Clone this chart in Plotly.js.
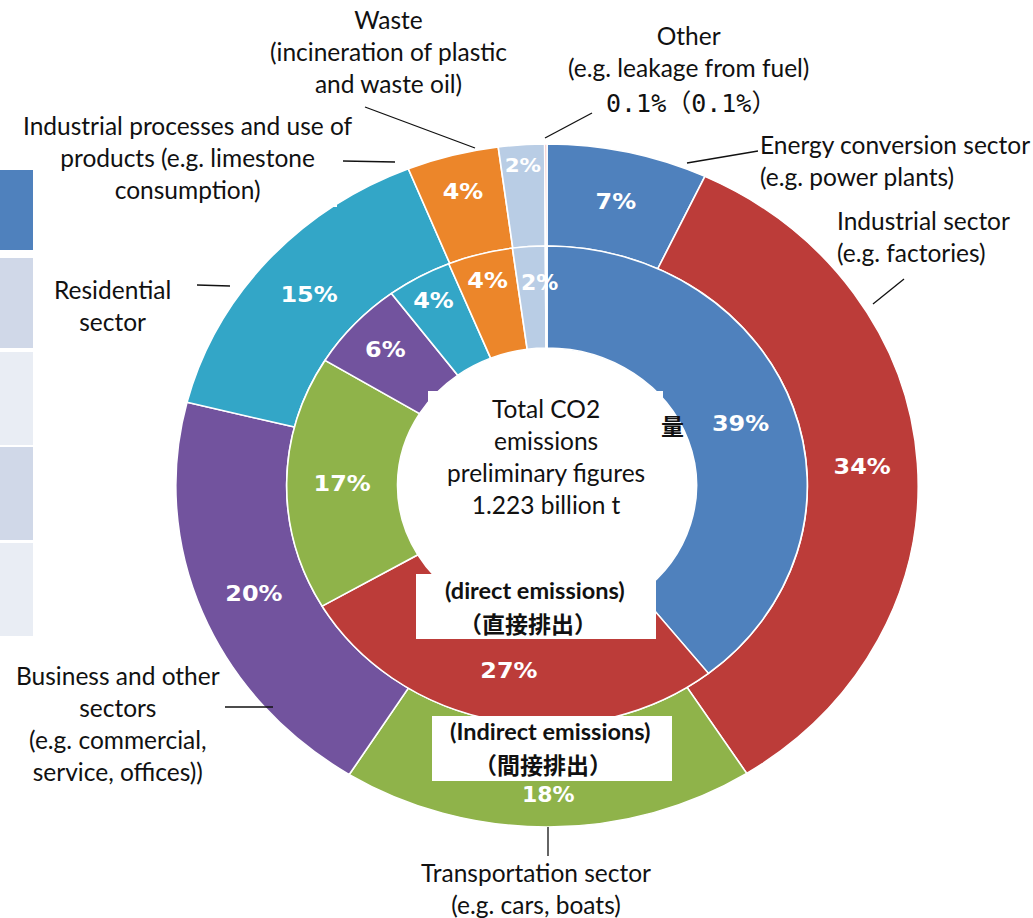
<!DOCTYPE html>
<html><head><meta charset="utf-8">
<script src="https://cdn.plot.ly/plotly-3.0.1.min.js"></script>
<style>html,body{margin:0;padding:0;background:#fff}#chart{width:1033px;height:918px}</style>
</head><body><div id="chart"></div>
<script>
// ---- data ----
const sectors = ['Energy conversion sector','Industrial sector','Transportation sector','Business and other sectors','Residential sector','Industrial processes and use of products','Waste','Other'];
const indirectShares = [7, 34, 18, 20, 15, 4, 2, 0.1];   // outer ring
const directShares   = [39, 27, 17, 6, 4, 4, 2, 0.1];    // inner ring
// slice labels drawn by the pie itself ('' = drawn as a separate note below, or not shown)
const outerTemplates = ['%{value}%','%{value}%','','%{value}%','%{value}%','%{value}%','%{value}%',''];
const innerTemplates = ['%{value}%','%{value}%','%{value}%','%{value}%','%{value}%','%{value}%','',''];
const sectorColors = ['#4F81BD','#BC3C39','#8FB34A','#72539E','#33A6C7','#EC862A','#B9CDE5','#EFA6A6'];

const labelWaste = 'Waste<br>(incineration of plastic<br>and waste oil)';
const labelOther = 'Other<br>(e.g. leakage from fuel)';
const labelOtherShare = '0.1%（0.1%）';
const labelProcesses = 'Industrial processes and use of<br>products (e.g. limestone<br>consumption)';
const labelEnergy = 'Energy conversion sector<br>(e.g. power plants)';
const labelIndustrial = 'Industrial sector<br>(e.g. factories)';
const labelResidential = 'Residential<br>sector';
const labelBusiness = 'Business and other<br>sectors<br>(e.g. commercial,<br>service, offices))';
const labelTransport = 'Transportation sector<br>(e.g. cars, boats)';
const centerTitle = 'Total CO2<br>emissions<br>preliminary figures<br>1.223 billion t';
const directTitleEn = '(direct emissions)';
const directTitleJa = '（直接排出）';
const indirectTitleEn = '(Indirect emissions)';
const indirectTitleJa = '（間接排出）';

// ---- layout helpers (pixel -> paper) ----
const W = 1033, H = 918;
const px = x => x / W, py = y => 1 - y / H;
const CX = 547, CY = 485.5, R_OUT = 341.5, R_MID = 239.5, R_HOLE = 137.5, STRETCH = 1.087;
const dom = r => ({x: [px(CX - r), px(CX + r)], y: [py(CY + r), py(CY - r)]});

const pctFont = {family: 'DejaVu Sans', size: 22, color: '#ffffff', weight: 'bold'};
const pieCommon = {
  type: 'pie', labels: sectors, sort: false, direction: 'clockwise', rotation: 0,
  textposition: 'inside', insidetextorientation: 'horizontal', hoverinfo: 'none',
  insidetextfont: pctFont,
  marker: {colors: sectorColors, line: {color: '#ffffff', width: 1.5}},
  showlegend: false
};
const outer = Object.assign({}, pieCommon, {values: indirectShares, texttemplate: outerTemplates,
  domain: dom(R_OUT), hole: R_MID / R_OUT, name: 'indirect'});
const inner = Object.assign({}, pieCommon, {values: directShares, texttemplate: innerTemplates,
  domain: dom(R_MID), hole: R_HOLE / R_MID, name: 'direct'});

const labelFont = {family: 'Lato, Carlito, sans-serif', size: 24.5, color: '#111'};
function ann(text, x, y, opts) {
  return Object.assign({text: text, x: px(x), y: py(y), xref: 'paper', yref: 'paper', showarrow: false,
    xanchor: 'center', yanchor: 'middle', align: 'center', font: labelFont}, opts || {});
}
const boldEn = {family: 'Lato, sans-serif', size: 23.5, color: '#111', weight: 'bold'};
const boldJa = {family: 'Noto Sans CJK JP', size: 23, color: '#111', weight: 'bold'};

const annotations = [
  ann(labelWaste, 388, 52),
  ann(labelOther, 688, 52),
  ann(labelOtherShare, 691, 103, {font: {family: 'DejaVu Sans Mono, Noto Sans CJK JP', size: 25, color: '#111'}}),
  ann(labelProcesses, 188, 158),
  ann(labelEnergy, 758, 160, {xanchor: 'left', align: 'left'}),
  ann(labelIndustrial, 835, 237, {xanchor: 'left', align: 'left'}),
  ann(labelResidential, 112, 305),
  ann(labelBusiness, 118, 723),
  ann(labelTransport, 536, 888),
  ann(centerTitle, 546, 456),
  ann(directTitleEn, 535, 590, {font: boldEn}),
  ann(directTitleJa, 528, 623, {font: boldJa}),
  ann(indirectTitleEn, 550, 731, {font: boldEn}),
  ann(indirectTitleJa, 543, 764, {font: boldJa}),
  ann('量', 672, 425, {font: boldJa}),
  // slice labels that sit off the ring's mid-line in the original
  ann(indirectShares[2] + '%', 548, 794, {font: pctFont}),
  ann(directShares[6] + '%', 539, 282, {font: pctFont})
];

function seg(x0, y0, x1, y1) {
  return {type: 'line', xref: 'paper', yref: 'paper', x0: px(x0), y0: py(y0), x1: px(x1), y1: py(y1),
    line: {color: '#111', width: 1.3}, layer: 'above'};
}
function box(x0, y0, x1, y1, color) {
  return {type: 'rect', xref: 'paper', yref: 'paper', x0: px(x0), y0: py(y0), x1: px(x1), y1: py(y1),
    fillcolor: color, line: {width: 0}, layer: 'above'};
}
const shapes = [
  seg(365, 107, 475, 148),
  seg(545, 138, 592, 113),
  seg(343, 161, 395, 162),
  seg(687, 163, 758, 151),
  seg(873, 304, 904, 279),
  seg(197, 285, 230, 286),
  seg(225, 707, 273, 707),
  seg(548, 827, 548, 856),
  box(200, 140, 337, 207, '#ffffff'),
  box(428, 391, 663, 535, '#ffffff'),
  box(416, 574, 656, 639, '#ffffff'),
  box(432, 716, 672, 781, '#ffffff'),
  box(0, 170, 33, 250, '#4F81BD'),
  box(0, 258, 33, 348, '#D0D8E8'),
  box(0, 352, 33, 445, '#E9EDF4'),
  box(0, 447, 33, 540, '#D0D8E8'),
  box(0, 543, 33, 636, '#E9EDF4')
];

const layout = {width: W, height: H, margin: {l: 0, r: 0, t: 0, b: 0},
  paper_bgcolor: '#ffffff', plot_bgcolor: '#ffffff', showlegend: false,
  annotations: annotations, shapes: shapes};

Plotly.newPlot('chart', [outer, inner], layout, {displayModeBar: false, staticPlot: true}).then(gd => {
  // the original figure is slightly wider than tall: stretch the rings horizontally
  const pl = gd.querySelector('.pielayer');
  if (pl) pl.setAttribute('transform', `translate(${CX},0) scale(${STRETCH},1) translate(${-CX},0)`);
});
</script>
</body></html>
